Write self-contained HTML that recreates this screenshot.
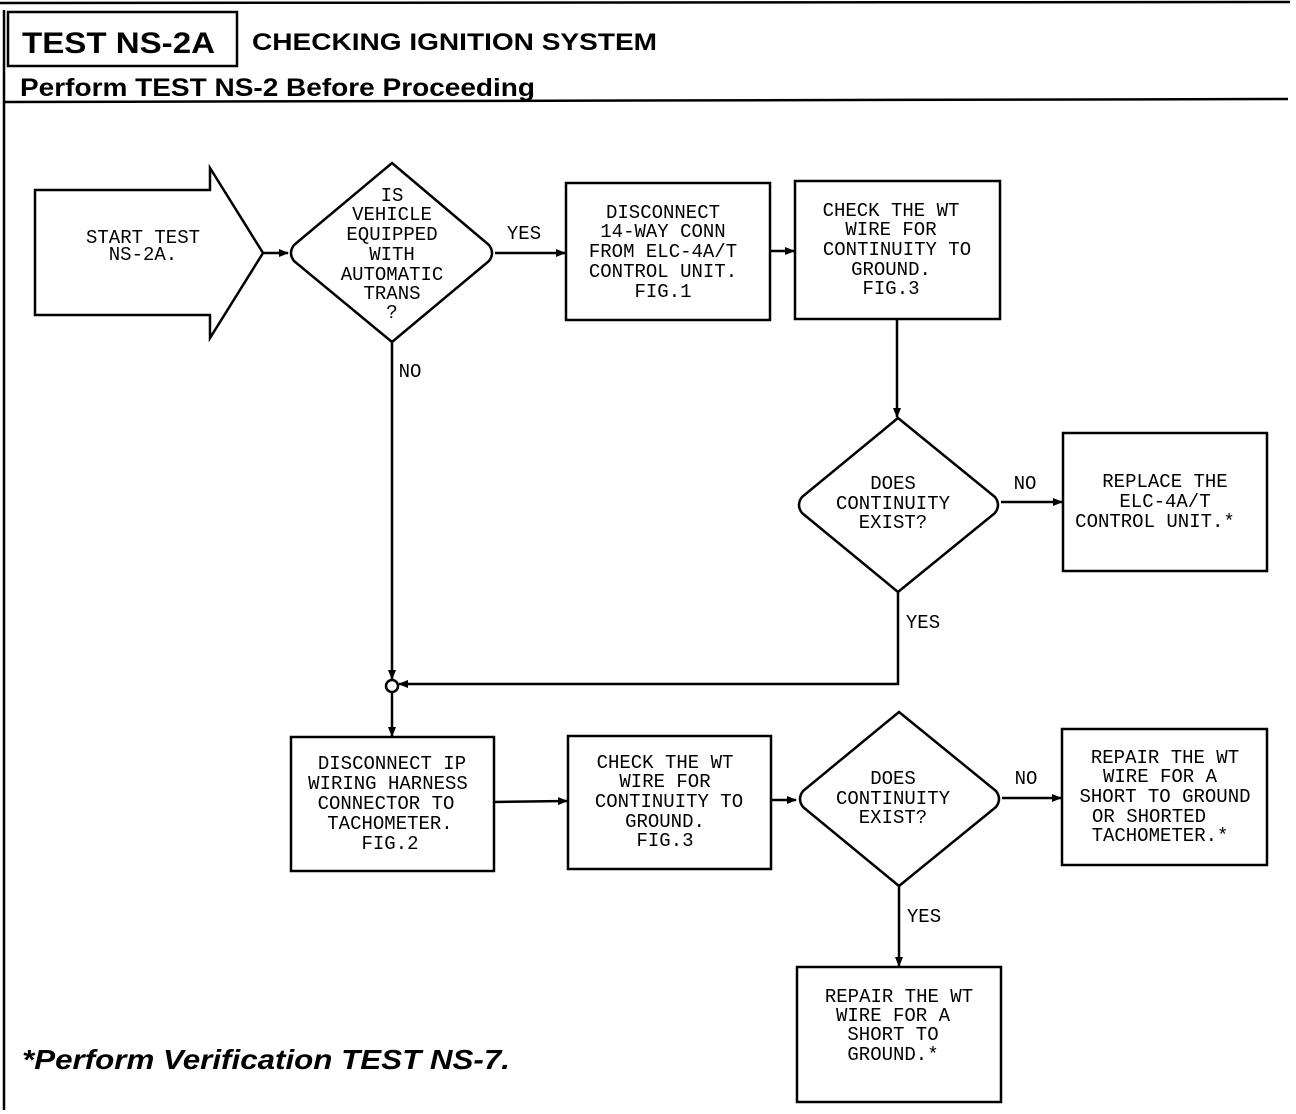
<!DOCTYPE html>
<html><head><meta charset="utf-8"><style>
html,body{margin:0;padding:0;background:#fff}
svg{display:block}
.m{font-family:"Liberation Mono",monospace;font-size:19px;fill:#000;text-anchor:middle}
.h{font-family:"Liberation Sans",sans-serif;font-weight:bold;fill:#000}
</style></head><body>
<svg width="1296" height="1114" viewBox="0 0 1296 1114" xmlns="http://www.w3.org/2000/svg">
<defs><marker id="a" markerWidth="10" markerHeight="10" refX="9" refY="5" orient="auto" markerUnits="userSpaceOnUse"><path d="M0,1 L10,5 L0,9 z" fill="#000"/></marker></defs>
<g stroke="#000" stroke-width="2.5" fill="none">
<line x1="0" y1="3" x2="1290" y2="2"/>
<line x1="4" y1="10" x2="4" y2="1110"/>
<rect x="8" y="12" width="229" height="54"/>
<line x1="4" y1="102" x2="1288" y2="99"/>
<!-- start arrow -->
<path d="M35,190 L210,190 L210,168 L263,253 L210,338 L210,315 L35,315 Z"/>
<!-- diamonds -->
<path d="M392,163 L489,245 Q495,253 489,261 L392,342 L294,261 Q288,253 294,245 Z"/>
<path d="M898,418 L995,497 Q1001,505 995,513 L898,592 L802,513 Q796,505 802,497 Z"/>
<path d="M899,712 L996,791 Q1002,799 996,807 L899,886 L803,807 Q797,799 803,791 Z"/>
<!-- boxes -->
<rect x="566" y="183" width="204" height="137"/>
<rect x="795" y="181" width="205" height="138"/>
<rect x="1063" y="433" width="204" height="138"/>
<rect x="291" y="737" width="203" height="134"/>
<rect x="568" y="736" width="203" height="133"/>
<rect x="1062" y="729" width="205" height="136"/>
<rect x="797" y="967" width="204" height="135"/>
<circle cx="392" cy="686" r="6"/>
<!-- connectors -->
<line x1="263" y1="253" x2="288" y2="253" marker-end="url(#a)"/>
<line x1="495" y1="253" x2="565" y2="253" marker-end="url(#a)"/>
<line x1="770" y1="251" x2="794" y2="251" marker-end="url(#a)"/>
<line x1="897" y1="319" x2="897" y2="417" marker-end="url(#a)"/>
<line x1="1001" y1="502" x2="1062" y2="502" marker-end="url(#a)"/>
<polyline points="898,592 898,684 399,684" marker-end="url(#a)"/>
<line x1="392" y1="342" x2="392" y2="679" marker-end="url(#a)"/>
<line x1="392" y1="692" x2="392" y2="736" marker-end="url(#a)"/>
<line x1="494" y1="802" x2="567" y2="801" marker-end="url(#a)"/>
<line x1="771" y1="800" x2="796" y2="800" marker-end="url(#a)"/>
<line x1="1002" y1="798" x2="1061" y2="798" marker-end="url(#a)"/>
<line x1="899" y1="886" x2="899" y2="966" marker-end="url(#a)"/>
</g>
<text class="h" x="22" y="53" font-size="30" textLength="193" lengthAdjust="spacingAndGlyphs">TEST NS-2A</text>
<text class="h" x="252" y="50" font-size="24" textLength="405" lengthAdjust="spacingAndGlyphs">CHECKING IGNITION SYSTEM</text>
<text class="h" x="20" y="96" font-size="25" textLength="515" lengthAdjust="spacingAndGlyphs">Perform TEST NS-2 Before Proceeding</text>
<text class="h" x="22" y="1069" font-size="28" font-style="italic" textLength="488" lengthAdjust="spacingAndGlyphs">*Perform Verification TEST  NS-7.</text>
<g class="m">
<text x="143" y="243">START TEST</text><text x="143" y="260">NS-2A.</text>
<text x="392" y="201">IS</text><text x="392" y="220">VEHICLE</text><text x="392" y="240">EQUIPPED</text><text x="392" y="260">WITH</text><text x="392" y="280">AUTOMATIC</text><text x="392" y="299">TRANS</text><text x="392" y="318">?</text>
<text x="524" y="239">YES</text><text x="410" y="377">NO</text>
<text x="663" y="218">DISCONNECT</text><text x="663" y="237">14-WAY CONN</text><text x="663" y="257">FROM ELC-4A/T</text><text x="663" y="277">CONTROL UNIT.</text><text x="663" y="297">FIG.1</text>
<text x="891" y="216">CHECK THE WT</text><text x="891" y="235">WIRE FOR</text><text x="897" y="255">CONTINUITY TO</text><text x="891" y="275">GROUND.</text><text x="891" y="294">FIG.3</text>
<text x="893" y="489">DOES</text><text x="893" y="509">CONTINUITY</text><text x="893" y="528">EXIST?</text>
<text x="1025" y="489">NO</text><text x="923" y="628">YES</text>
<text x="1165" y="487">REPLACE THE</text><text x="1165" y="507">ELC-4A/T</text><text x="1155" y="527">CONTROL UNIT.*</text>
<text x="392" y="769">DISCONNECT IP</text><text x="388" y="789">WIRING HARNESS</text><text x="386" y="809">CONNECTOR TO</text><text x="390" y="829">TACHOMETER.</text><text x="390" y="849">FIG.2</text>
<text x="665" y="768">CHECK THE WT</text><text x="665" y="787">WIRE FOR</text><text x="669" y="807">CONTINUITY TO</text><text x="665" y="827">GROUND.</text><text x="665" y="846">FIG.3</text>
<text x="893" y="784">DOES</text><text x="893" y="804">CONTINUITY</text><text x="893" y="823">EXIST?</text>
<text x="1026" y="784">NO</text><text x="924" y="922">YES</text>
<text x="1165" y="763">REPAIR THE WT</text><text x="1160" y="782">WIRE FOR A</text><text x="1165" y="802">SHORT TO GROUND</text><text x="1149" y="822">OR SHORTED</text><text x="1160" y="841">TACHOMETER.*</text>
<text x="899" y="1002">REPAIR THE WT</text><text x="893" y="1021">WIRE FOR A</text><text x="893" y="1040">SHORT TO</text><text x="893" y="1060">GROUND.*</text>
</g>
</svg>
</body></html>
